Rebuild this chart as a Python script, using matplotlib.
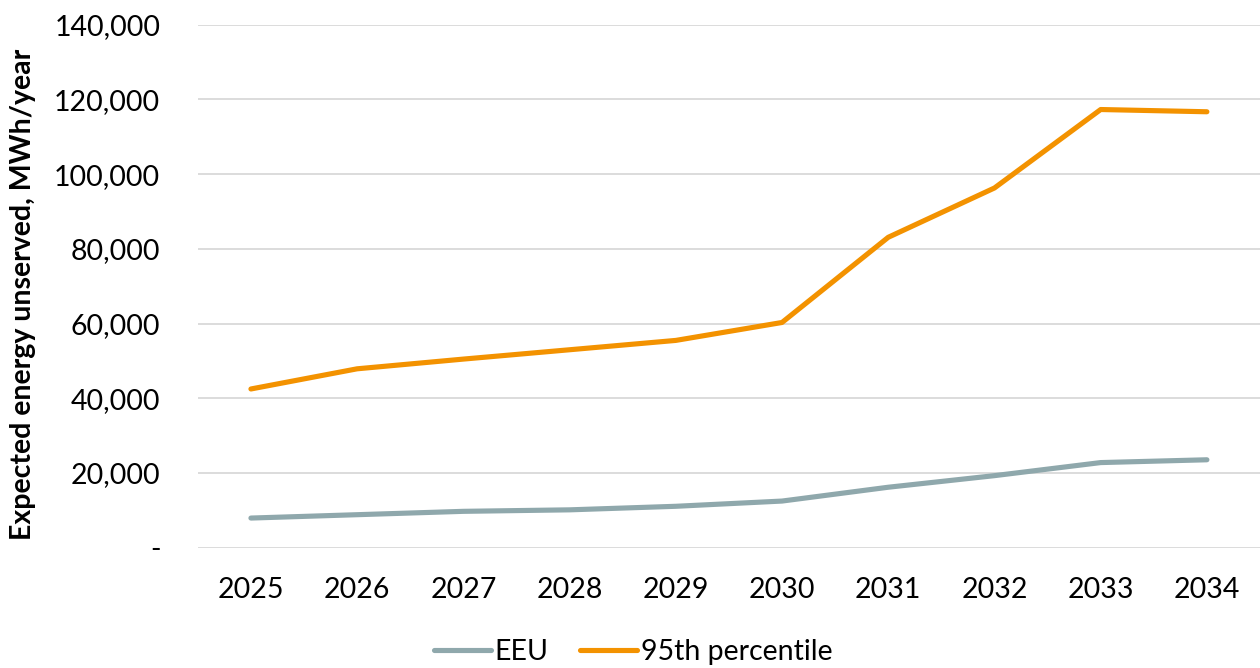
import matplotlib
matplotlib.use("Agg")
import matplotlib.pyplot as plt
from matplotlib.ticker import FuncFormatter

years = ["2025", "2026", "2027", "2028", "2029", "2030", "2031", "2032", "2033", "2034"]
eeu = [7950, 8850, 9750, 10150, 11100, 12500, 16200, 19300, 22800, 23550]
p95 = [42500, 47900, 50500, 53000, 55500, 60300, 83100, 96300, 117300, 116700]

plt.rcParams["font.family"] = ["Lato", "DejaVu Sans"]

fig = plt.figure(figsize=(12.6, 6.68), dpi=100)
ax = fig.add_axes([0.157, 0.18, 0.843, 0.783])

x = range(len(years))
ax.plot(x, eeu, color="#8FA8AC", lw=3.7, solid_capstyle="round", label="EEU")
ax.plot(x, p95, color="#F39200", lw=3.7, solid_capstyle="round", label="95th percentile")

ax.set_xlim(-0.5, len(years) - 0.5)
ax.set_ylim(0, 140000)
ax.set_yticks(range(0, 140001, 20000))
ax.yaxis.set_major_formatter(FuncFormatter(lambda v, p: "-" if v == 0 else f"{v:,.0f}"))
ax.set_xticks(list(x))
ax.set_xticklabels(years)

ax.grid(axis="y", color="#D9D9D9", lw=1.3)
ax.set_axisbelow(True)
for s in ax.spines.values():
    s.set_visible(False)
ax.tick_params(length=0, labelsize=20.5, colors="black")
ax.tick_params(axis="x", pad=21)
ax.tick_params(axis="y", pad=27)

ax.set_ylabel("Expected energy unserved, MWh/year", fontsize=20.5, fontweight="bold")
ax.yaxis.set_label_coords(-0.152, 0.485)

ax.legend(loc="center", bbox_to_anchor=(0.41, -0.2), ncol=2, frameon=False,
          fontsize=20.5, handlelength=2.0, handletextpad=0.15, columnspacing=1.1,
          borderpad=0.1)

fig.savefig("out.png", dpi=100)
